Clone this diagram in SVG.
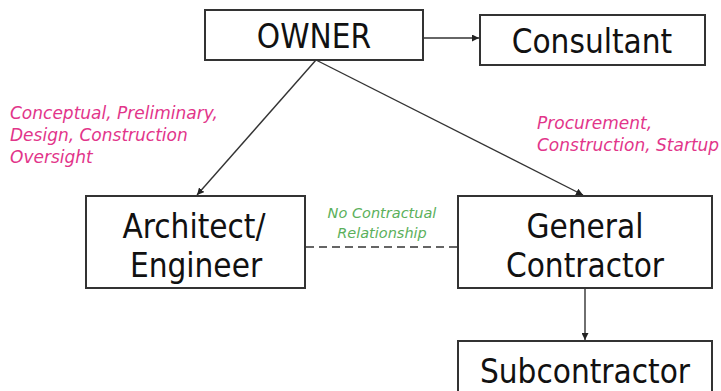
<svg xmlns="http://www.w3.org/2000/svg" width="721" height="391" viewBox="0 0 721 391">
<defs>
<style>
.box{fill:#fff;stroke:#333;stroke-width:2}
.t{font-family:'DejaVu Sans Condensed','DejaVu Sans',sans-serif;font-stretch:condensed;font-size:33px;fill:#111;text-anchor:middle}
.pk{font-family:'DejaVu Sans',sans-serif;font-style:italic;font-size:17px;fill:#E2358A}
.gr{font-family:'DejaVu Sans',sans-serif;font-style:italic;font-size:14.5px;fill:#5BB05B;text-anchor:middle}
.c{stroke:#333;stroke-width:1.4;fill:none}
</style>
<marker id="ah" viewBox="0 0 10 10" refX="10" refY="5" markerWidth="7" markerHeight="7" markerUnits="userSpaceOnUse" orient="auto">
<path d="M0,0 L10,5 L0,10 z" fill="#222"/>
</marker>
</defs>
<rect width="721" height="391" fill="#fff"/>
<g id="connectors">
<line class="c" x1="423" y1="38" x2="479" y2="38" marker-end="url(#ah)"/>
<line class="c" x1="316" y1="60" x2="197" y2="195" marker-end="url(#ah)"/>
<line class="c" x1="316" y1="60" x2="583" y2="195" marker-end="url(#ah)"/>
<line class="c" x1="585" y1="288" x2="585" y2="340" marker-end="url(#ah)"/>
<line class="c" x1="306" y1="247" x2="457" y2="247" stroke-dasharray="8,5"/>
</g>
<g id="owner">
<rect class="box" x="205" y="10" width="218" height="50"/>
<text class="t" x="314" y="48">OWNER</text>
</g>
<g id="consultant">
<rect class="box" x="480" y="15" width="225" height="50"/>
<text class="t" x="592" y="53">Consultant</text>
</g>
<g id="architect">
<rect class="box" x="86" y="196" width="219" height="92"/>
<text class="t" x="194" y="238">Architect/</text>
<text class="t" x="196" y="277">Engineer</text>
</g>
<g id="gc">
<rect class="box" x="458" y="196" width="254" height="92"/>
<text class="t" x="585" y="238">General</text>
<text class="t" x="585" y="277">Contractor</text>
</g>
<g id="sub">
<rect class="box" x="458" y="341" width="254" height="60"/>
<text class="t" x="585" y="383">Subcontractor</text>
</g>
<g id="labels">
<text class="pk" x="10" y="119">Conceptual, Preliminary,</text>
<text class="pk" x="10" y="141">Design, Construction</text>
<text class="pk" x="10" y="163">Oversight</text>
<text class="pk" x="537" y="129">Procurement,</text>
<text class="pk" x="537" y="151">Construction, Startup</text>
<text class="gr" x="382" y="218">No Contractual</text>
<text class="gr" x="382" y="238">Relationship</text>
</g>
</svg>
